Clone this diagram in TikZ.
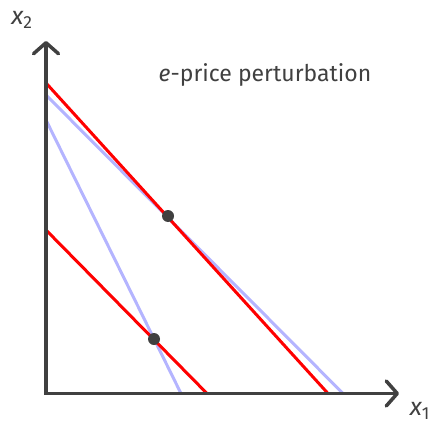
\documentclass[tikz,border=0pt]{standalone}
\usepackage{fontspec}
\setmainfont{Fira Sans}
\usetikzlibrary{arrows.meta}
\definecolor{axisgray}{HTML}{404040}
\definecolor{lav}{HTML}{B4B4FF}
\definecolor{myred}{HTML}{FF0000}
\tikzset{
  axisline/.style={draw=axisgray, line width=3.5pt, line join=miter,
    arrows={Straight Barb[length=11pt,width=25pt,line cap=round,line join=round]-Straight Barb[length=11pt,width=25pt,line cap=round,line join=round]}},
  budget/.style={draw=myred, line width=3pt},
  shifted/.style={draw=lav, line width=3pt},
  pt/.style={circle, fill=axisgray, inner sep=0pt, minimum size=12pt},
  lbl/.style={text=axisgray, font=\fontsize{23}{26}\selectfont, inner sep=0pt},
  axlbl/.style={text=axisgray, font=\fontsize{25}{28}\selectfont, inner sep=0pt}
}
\begin{document}
\begin{tikzpicture}[x=1pt,y=-1pt]
\useasboundingbox (0,0) rectangle (436,425);
% lines
\coordinate (r1a) at (46,83);
\coordinate (r1b) at (328,393.5);
\coordinate (b1a) at (46,95);
\coordinate (b1b) at (343,393.5);
\coordinate (b2a) at (46,120);
\coordinate (b2b) at (181,393.5);
\coordinate (r2a) at (46,230);
\coordinate (r2b) at (207,393.5);
\draw[shifted] (b1a) -- (b1b);
\draw[shifted] (b2a) -- (b2b);
\draw[budget] (r1a) -- (r1b);
\draw[budget] (r2a) -- (r2b);
% axes
\coordinate (ytip) at (46,41);
\coordinate (orig) at (46,393.5);
\coordinate (xtip) at (399,393.5);
\draw[axisline] (ytip) -- (orig) -- (xtip);
% dots
\node[pt] (d1) at (168,216) {};
\node[pt] (d2) at (154,339) {};
% labels
\node[axlbl] (xtwo) at (22,20) {\itshape x\textsubscript{\upshape 2}};
\node[axlbl] (xone) at (420,411) {\itshape x\textsubscript{\upshape 1}};
\node[lbl] (title) at (265,75) {\itshape e\upshape-price perturbation};
\end{tikzpicture}
\end{document}
